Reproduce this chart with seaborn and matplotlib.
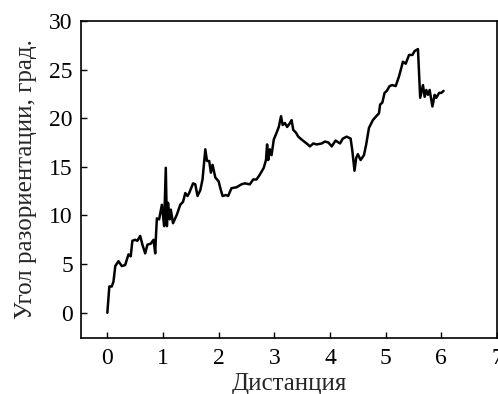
import matplotlib
matplotlib.use("Agg")
import matplotlib.pyplot as plt
import seaborn as sns
import pandas as pd

distance = [0.0, 0.036, 0.08, 0.11, 0.143, 0.2, 0.26, 0.32, 0.38, 0.42, 0.45, 0.5, 0.54, 0.59,
            0.63, 0.68, 0.72, 0.78, 0.83, 0.86, 0.87, 0.89, 0.93, 0.98, 1.02, 1.05, 1.07, 1.09,
            1.12, 1.14, 1.18, 1.25, 1.31, 1.36, 1.40, 1.44, 1.47, 1.54, 1.58, 1.62, 1.67, 1.71,
            1.76, 1.79, 1.83, 1.86, 1.89, 1.94, 2.0, 2.03, 2.07, 2.13, 2.17, 2.23, 2.32, 2.41,
            2.47, 2.56, 2.62, 2.68, 2.74, 2.81, 2.85, 2.87, 2.89, 2.92, 2.95, 2.99, 3.04, 3.08,
            3.12, 3.15, 3.19, 3.23, 3.28, 3.31, 3.34, 3.39, 3.43, 3.49, 3.58, 3.64, 3.70, 3.76,
            3.85, 3.91, 3.97, 4.03, 4.10, 4.18, 4.23, 4.30, 4.37, 4.40, 4.44, 4.47, 4.50, 4.55,
            4.61, 4.65, 4.70, 4.77, 4.83, 4.88, 4.90, 4.94, 4.98, 5.02, 5.07, 5.12, 5.18, 5.24,
            5.31, 5.36, 5.42, 5.48, 5.52, 5.58, 5.62, 5.67, 5.70, 5.73, 5.76, 5.79, 5.84, 5.88,
            5.91, 5.96, 6.0, 6.04]
angle = [0.0, 2.7, 2.7, 3.2, 4.8, 5.3, 4.8, 4.9, 6.0, 5.8, 7.4, 7.5, 7.4, 7.9,
         7.0, 6.1, 7.0, 7.1, 7.5, 6.1, 7.5, 9.7, 9.6, 11.1, 8.9, 14.9, 8.9, 11.3,
         9.6, 10.6, 9.2, 10.1, 11.1, 11.4, 12.3, 12.0, 12.3, 13.3, 13.2, 12.0, 12.6, 13.7,
         16.8, 15.6, 15.6, 14.4, 15.2, 13.9, 13.5, 12.8, 12.0, 12.1, 12.0, 12.8, 12.9, 13.2,
         13.3, 13.2, 13.7, 13.7, 14.2, 14.9, 15.7, 17.3, 15.7, 16.8, 16.2, 17.8, 18.5, 19.1,
         20.2, 19.3, 19.5, 19.1, 19.5, 19.8, 18.8, 18.5, 18.1, 17.8, 17.4, 17.1, 17.4, 17.3,
         17.4, 17.6, 17.5, 17.1, 17.7, 17.4, 17.9, 18.1, 17.9, 16.7, 14.6, 15.9, 16.3, 15.7,
         16.2, 17.3, 19.0, 19.8, 20.2, 20.5, 21.4, 21.6, 22.6, 22.8, 23.3, 23.4, 23.3, 24.3,
         25.8, 25.6, 26.5, 26.5, 26.9, 27.1, 22.1, 23.4, 22.2, 22.9, 22.4, 22.9, 21.2, 22.4,
         22.1, 22.6, 22.6, 22.8]

x_ticks = [0, 1, 2, 3, 4, 5, 6, 7]
y_ticks = [0, 5, 10, 15, 20, 25, 30]
x_label = "Дистанция"
y_label = "Угол разориентации, град."

df = pd.DataFrame({"d": distance, "a": angle})

sns.set_style("ticks")
plt.rcParams["font.family"] = ["Liberation Serif", "DejaVu Serif"]

fig = plt.figure(figsize=(4.98, 3.94), dpi=100)
ax = fig.add_axes([0.163, 0.142, 0.835, 0.805])
sns.lineplot(data=df, x="d", y="a", sort=False, color="black", linewidth=1.8, ax=ax)

ax.set_xlim(-0.47, 7.0)
ax.set_ylim(-2.6, 30)
ax.set_xticks(x_ticks)
ax.set_yticks(y_ticks)
ax.tick_params(direction="in", length=4, width=1, labelsize=17, colors="black",
               top=False, right=False)
ax.tick_params(axis="x", pad=7)
ax.tick_params(axis="y", pad=6)
for s in ax.spines.values():
    s.set_linewidth(1.2)
    s.set_color("black")
ax.set_xlabel(x_label, fontsize=18, labelpad=3)
ax.set_ylabel(y_label, fontsize=18, labelpad=9)

fig.savefig("out.png", dpi=100)
